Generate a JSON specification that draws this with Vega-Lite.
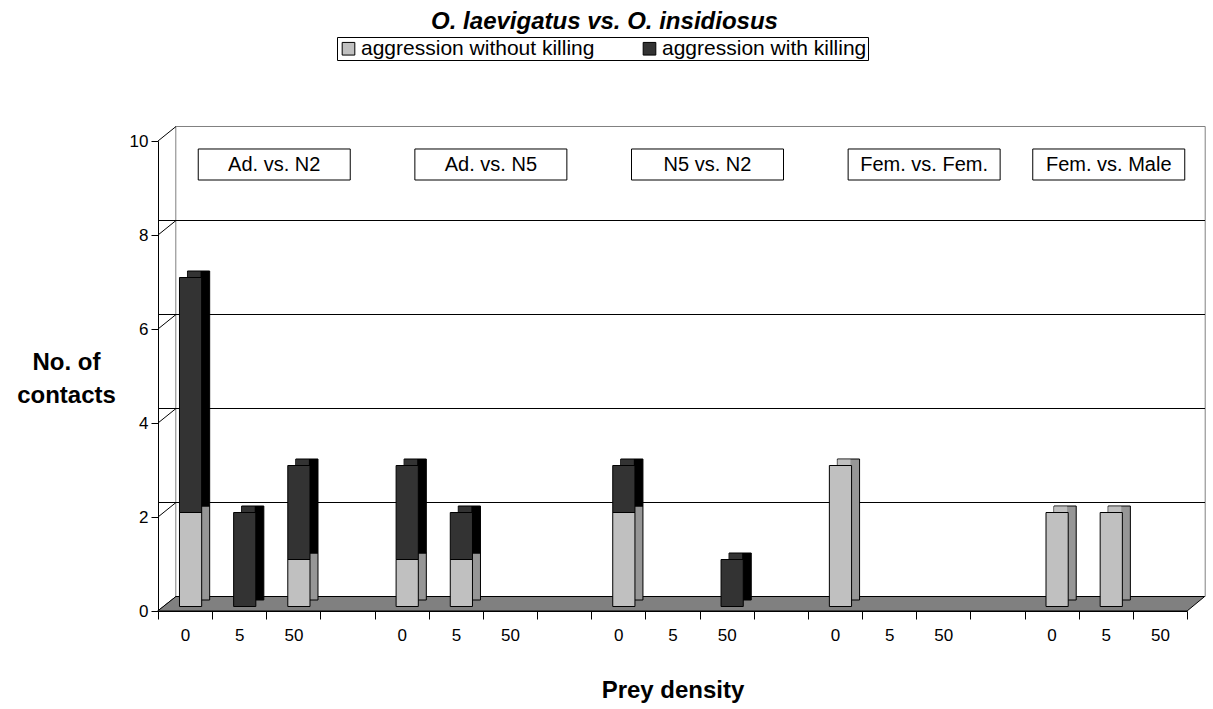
{
  "$schema": "https://vega.github.io/schema/vega-lite/v6.json",
  "width": 1029,
  "height": 470,
  "autosize": "none",
  "padding": {"left": 158, "top": 141, "right": 26, "bottom": 98},
  "background": "white",
  "config": {
    "font": "Liberation Sans",
    "view": {"stroke": null},
    "axis": {"labelFont": "Liberation Sans", "titleFont": "Liberation Sans", "labelColor": "black", "titleColor": "black", "domainColor": "black", "tickColor": "black"},
    "legend": {"labelFont": "Liberation Sans"}
  },
  "title": {
    "text": "O. laevigatus vs. O. insidiosus",
    "font": "Liberation Sans",
    "fontSize": 24,
    "fontWeight": "bold",
    "fontStyle": "italic",
    "color": "black",
    "anchor": "middle",
    "frame": "group",
    "dx": -68,
    "offset": 3
  },
  "datasets": {
    "contacts": [
      {"group": "Ad. vs. N2", "density": "0", "slot": "a|0", "type": "aggression without killing", "n": 2},
      {"group": "Ad. vs. N2", "density": "0", "slot": "a|0", "type": "aggression with killing", "n": 5},
      {"group": "Ad. vs. N2", "density": "5", "slot": "a|5", "type": "aggression with killing", "n": 2},
      {"group": "Ad. vs. N2", "density": "50", "slot": "a|50", "type": "aggression without killing", "n": 1},
      {"group": "Ad. vs. N2", "density": "50", "slot": "a|50", "type": "aggression with killing", "n": 2},
      {"group": "Ad. vs. N5", "density": "0", "slot": "b|0", "type": "aggression without killing", "n": 1},
      {"group": "Ad. vs. N5", "density": "0", "slot": "b|0", "type": "aggression with killing", "n": 2},
      {"group": "Ad. vs. N5", "density": "5", "slot": "b|5", "type": "aggression without killing", "n": 1},
      {"group": "Ad. vs. N5", "density": "5", "slot": "b|5", "type": "aggression with killing", "n": 1},
      {"group": "N5 vs. N2", "density": "0", "slot": "c|0", "type": "aggression without killing", "n": 2},
      {"group": "N5 vs. N2", "density": "0", "slot": "c|0", "type": "aggression with killing", "n": 1},
      {"group": "N5 vs. N2", "density": "50", "slot": "c|50", "type": "aggression with killing", "n": 1},
      {"group": "Fem. vs. Fem.", "density": "0", "slot": "d|0", "type": "aggression without killing", "n": 3},
      {"group": "Fem. vs. Male", "density": "0", "slot": "e|0", "type": "aggression without killing", "n": 2},
      {"group": "Fem. vs. Male", "density": "5", "slot": "e|5", "type": "aggression without killing", "n": 2}
    ],
    "grid": [{"v": 0}, {"v": 2}, {"v": 4}, {"v": 6}, {"v": 8}, {"v": 10}],
    "labels": [
      {"group": "Ad. vs. N2", "slot": "a|5"},
      {"group": "Ad. vs. N5", "slot": "b|5"},
      {"group": "N5 vs. N2", "slot": "c|5"},
      {"group": "Fem. vs. Fem.", "slot": "d|5"}
    ],
    "labelsLast": [
      {"group": "Fem. vs. Male", "slot": "e|5"}
    ],
    "frame": [{"slot": "c|5", "mid": 5, "zero": 0}]
  },
  "layer": [
    {
      "data": {"name": "frame"},
      "mark": {"type": "point", "filled": false, "shape": "M-1,-0.4566H1V0.4566H-1Z", "size": 1059664, "stroke": "#808080", "strokeWidth": 1, "opacity": 1, "xOffset": 18, "yOffset": -14.5},
      "encoding": {
        "x": {
          "field": "slot", "type": "nominal",
          "scale": {"type": "band", "domain": ["a|0", "a|5", "a|50", "g1|", "b|0", "b|5", "b|50", "g2|", "c|0", "c|5", "c|50", "g3|", "d|0", "d|5", "d|50", "g4|", "e|0", "e|5", "e|50"], "paddingInner": 0, "paddingOuter": 0},
          "axis": {
            "title": "Prey density",
            "titleFontSize": 24,
            "titleFontWeight": "bold",
            "titlePadding": 35,
            "labelExpr": "split(datum.value, '|')[1]",
            "labelAngle": 0,
            "labelFontSize": 17,
            "labelPadding": 8,
            "tickBand": "extent",
            "tickSize": 8,
            "grid": false,
            "domainWidth": 1
          }
        },
        "y": {"field": "mid", "type": "quantitative"}
      }
    },
    {
      "data": {"name": "grid"},
      "transform": [{"filter": "datum.v > 0 && datum.v < 10"}],
      "mark": {"type": "rule", "color": "black", "strokeWidth": 1, "xOffset": 18, "x2Offset": 18, "yOffset": -14.5},
      "encoding": {
        "y": {"field": "v", "type": "quantitative"}
      }
    },
    {
      "data": {"name": "grid"},
      "mark": {"type": "rule", "color": "black", "strokeWidth": 1, "x2Offset": 18, "y2Offset": -14.5},
      "encoding": {
        "x": {"value": 0},
        "x2": {"value": 0},
        "y": {"field": "v", "type": "quantitative"},
        "y2": {"field": "v"}
      }
    },
    {
      "data": {"name": "frame"},
      "mark": {"type": "point", "filled": true, "shape": "M-1,0.01385L0.9664,0.01385L1,-0.01385L-0.965,-0.01385Z", "size": 1096209, "fill": "#808080", "stroke": "black", "strokeWidth": 1, "opacity": 1, "xOffset": 8.65, "yOffset": -7.25},
      "encoding": {
        "x": {"field": "slot", "type": "nominal"},
        "y": {"field": "zero", "type": "quantitative"}
      }
    },
    {
      "data": {"name": "contacts"},
      "mark": {"type": "bar", "width": {"band": 0.41}, "stroke": "black", "strokeWidth": 1, "xOffset": 13.5, "yOffset": -11, "y2Offset": -11},
      "encoding": {
        "x": {"field": "slot", "type": "nominal"},
        "y": {"field": "n", "type": "quantitative", "stack": "zero"},
        "color": {"field": "type", "type": "nominal", "scale": {"domain": ["aggression without killing", "aggression with killing"], "range": ["#969696", "#000000"]}, "legend": null},
        "order": {"field": "type", "sort": "descending"}
      }
    },
    {
      "data": {"name": "contacts"},
      "transform": [
        {"aggregate": [{"op": "sum", "field": "n", "as": "total"}, {"op": "min", "field": "type", "as": "toptype"}], "groupby": ["slot"]}
      ],
      "mark": {"type": "bar", "width": 13, "xOffset": 9, "yOffset": -10.5, "y2Offset": -5},
      "encoding": {
        "x": {"field": "slot", "type": "nominal"},
        "y": {"field": "total", "type": "quantitative"},
        "y2": {"field": "total"},
        "color": {"field": "toptype", "type": "nominal", "scale": {"domain": ["aggression without killing", "aggression with killing"], "range": ["#C0C0C0", "#333333"]}, "legend": null}
      }
    },
    {
      "data": {"name": "contacts"},
      "mark": {"type": "bar", "width": {"band": 0.41}, "stroke": "black", "strokeWidth": 1, "xOffset": 5.5, "yOffset": -4.5, "y2Offset": -4.5},
      "encoding": {
        "x": {"field": "slot", "type": "nominal"},
        "y": {
          "field": "n", "type": "quantitative", "stack": "zero",
          "scale": {"domain": [0, 10]},
          "axis": {
            "title": ["No. of", "contacts"],
            "titleAngle": 0,
            "titleFontSize": 24,
            "titleFontWeight": "bold",
            "titleAlign": "center",
            "titleBaseline": "middle",
            "titleLineHeight": 33,
            "titleX": -92,
            "titleY": 221,
            "values": [0, 2, 4, 6, 8, 10],
            "labelFontSize": 17,
            "labelPadding": 3,
            "tickSize": 7,
            "grid": false,
            "domainWidth": 1
          }
        },
        "color": {
          "field": "type", "type": "nominal",
          "scale": {"domain": ["aggression without killing", "aggression with killing"], "range": ["#C0C0C0", "#333333"]},
          "legend": {
            "title": null,
            "orient": "none",
            "legendX": 179,
            "legendY": -104,
            "direction": "horizontal",
            "symbolType": "square",
            "symbolSize": 160,
            "symbolStrokeColor": "black",
            "symbolStrokeWidth": 1,
            "labelFontSize": 21,
            "labelLimit": 500,
            "labelColor": "black",
            "labelOffset": 2,
            "columnPadding": 44,
            "padding": 1,
            "fillColor": "white",
            "strokeColor": "black"
          }
        },
        "order": {"field": "type", "sort": "descending"}
      }
    },
    {
      "data": {"name": "labels"},
      "mark": {"type": "point", "filled": true, "shape": "M-1,-0.204H1V0.204H-1Z", "size": 23104, "fill": "white", "stroke": "black", "strokeWidth": 1, "opacity": 1, "xOffset": 35},
      "encoding": {
        "x": {"field": "slot", "type": "nominal"},
        "y": {"datum": 9.5}
      }
    },
    {
      "data": {"name": "labels"},
      "mark": {"type": "text", "fontSize": 20, "font": "Liberation Sans", "color": "black", "xOffset": 35, "baseline": "middle", "align": "center"},
      "encoding": {
        "x": {"field": "slot", "type": "nominal"},
        "y": {"datum": 9.5},
        "text": {"field": "group"}
      }
    },
    {
      "data": {"name": "labelsLast"},
      "mark": {"type": "point", "filled": true, "shape": "M-1,-0.204H1V0.204H-1Z", "size": 23104, "fill": "white", "stroke": "black", "strokeWidth": 1, "opacity": 1, "xOffset": 3},
      "encoding": {
        "x": {"field": "slot", "type": "nominal"},
        "y": {"datum": 9.5}
      }
    },
    {
      "data": {"name": "labelsLast"},
      "mark": {"type": "text", "fontSize": 20, "font": "Liberation Sans", "color": "black", "xOffset": 3, "baseline": "middle", "align": "center"},
      "encoding": {
        "x": {"field": "slot", "type": "nominal"},
        "y": {"datum": 9.5},
        "text": {"field": "group"}
      }
    }
  ],
  "resolve": {"scale": {"color": "independent"}}
}
